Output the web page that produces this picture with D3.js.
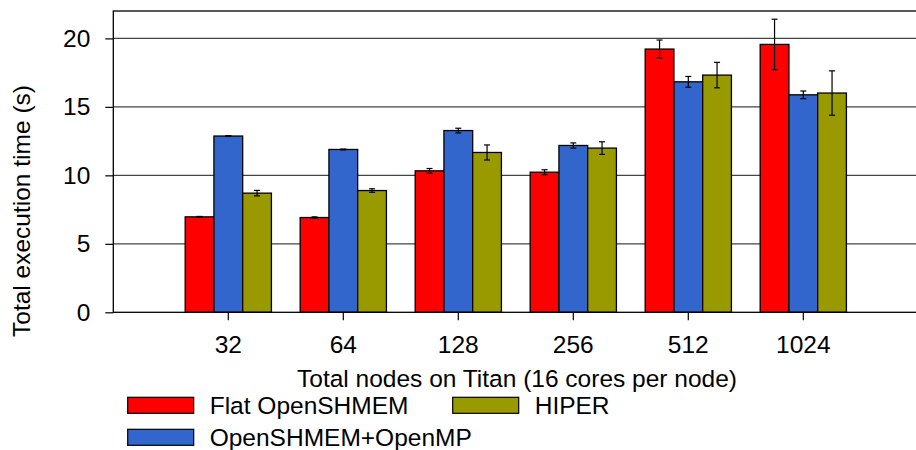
<!DOCTYPE html>
<html>
<head>
<meta charset="utf-8">
<script src="https://cdn.jsdelivr.net/npm/d3@7/dist/d3.min.js"></script>
<style>
  html, body { margin: 0; padding: 0; background: #fff; }
  svg { display: block; font-family: "Liberation Sans", Arial, Helvetica, sans-serif; }
</style>
</head>
<body>
<svg id="chart" width="916" height="450"></svg>
<script>
// Node counts on the x axis
const categories = ["32", "64", "128", "256", "512", "1024"];
const seriesNames = ["Flat OpenSHMEM", "OpenSHMEM+OpenMP", "HIPER"];
const seriesColors = ["#ff0000", "#3366cc", "#999900"];

// Mean execution time (s) per series, per node count
const flatValues   = [6.97, 6.92, 10.33, 10.23, 19.22, 19.56];
const hybridValues = [12.87, 11.89, 13.27, 12.18, 16.83, 15.88];
const hiperValues  = [8.70, 8.89, 11.67, 11.99, 17.32, 16.01];

// Half-width of the error bars (s)
const flatErr   = [0.03, 0.05, 0.17, 0.18, 0.66, 1.84];
const hybridErr = [0.03, 0.03, 0.17, 0.19, 0.39, 0.28];
const hiperErr  = [0.20, 0.13, 0.55, 0.46, 0.93, 1.62];

const yTicks = [0, 5, 10, 15, 20];

const values = [flatValues, hybridValues, hiperValues];
const errs = [flatErr, hybridErr, hiperErr];

const rows = [];
categories.forEach((c, i) => {
  seriesNames.forEach((s, k) => {
    rows.push({ cat: c, series: s, color: seriesColors[k], v: values[k][i], e: errs[k][i] });
  });
});

const svg = d3.select("#chart");
const plotLeft = 113.3, plotRight = 918.3, plotTop = 11, plotBottom = 312.3;
const fontSize = 24.5;

const x0 = d3.scaleBand().domain(categories).range([plotLeft, plotRight]).paddingInner(0).paddingOuter(0.5);
const step = x0.step();
const x1 = d3.scaleBand().domain(seriesNames).range([-0.375 * step, 0.375 * step]).padding(0);
const y = d3.scaleLinear().domain([0, 22]).range([plotBottom, plotTop]);

// horizontal grid lines
svg.append("g")
  .selectAll("line")
  .data(yTicks.filter(t => t > 0))
  .join("line")
  .attr("x1", plotLeft).attr("x2", plotRight)
  .attr("y1", d => y(d)).attr("y2", d => y(d))
  .attr("stroke", "#444").attr("stroke-width", 1.2);

// y axis with outward ticks
const yAxis = d3.axisLeft(y).tickValues(yTicks).tickSize(8).tickPadding(15).tickFormat(d3.format("d"));
const yg = svg.append("g").attr("transform", `translate(${plotLeft},0)`).call(yAxis);
yg.select(".domain").remove();
yg.selectAll(".tick line").attr("stroke", "#000").attr("stroke-width", 1.2);
yg.selectAll(".tick text").attr("font-size", fontSize).attr("fill", "#000")
  .attr("font-family", "'Liberation Sans', Arial, sans-serif");

// x axis with ticks below the baseline
const xAxis = d3.axisBottom(x0).tickSize(8).tickPadding(15);
const xg = svg.append("g").attr("transform", `translate(0,${plotBottom})`).call(xAxis);
xg.select(".domain").remove();
xg.selectAll(".tick line").attr("stroke", "#000").attr("stroke-width", 1.2);
xg.selectAll(".tick text").attr("font-size", fontSize).attr("fill", "#000")
  .attr("font-family", "'Liberation Sans', Arial, sans-serif");

// bars
svg.append("g")
  .selectAll("rect")
  .data(rows)
  .join("rect")
  .attr("x", d => x0(d.cat) + step / 2 + x1(d.series))
  .attr("y", d => y(d.v))
  .attr("width", x1.bandwidth())
  .attr("height", d => y(0) - y(d.v))
  .attr("fill", d => d.color)
  .attr("stroke", "#000")
  .attr("stroke-width", 1.3);

// error bars
const eg = svg.append("g").attr("stroke", "#000").attr("stroke-width", 1.2);
rows.forEach(d => {
  const cx = x0(d.cat) + step / 2 + x1(d.series) + x1.bandwidth() / 2;
  const y1 = y(d.v + d.e), y2 = y(d.v - d.e);
  eg.append("line").attr("x1", cx).attr("x2", cx).attr("y1", y1).attr("y2", y2);
  eg.append("line").attr("x1", cx - 3).attr("x2", cx + 3).attr("y1", y1).attr("y2", y1);
  eg.append("line").attr("x1", cx - 3).attr("x2", cx + 3).attr("y1", y2).attr("y2", y2);
});

// frame
svg.append("rect")
  .attr("x", plotLeft).attr("y", plotTop)
  .attr("width", plotRight - plotLeft).attr("height", plotBottom - plotTop)
  .attr("fill", "none").attr("stroke", "#000").attr("stroke-width", 1.3);

// axis titles
svg.append("text")
  .attr("transform", `translate(30,211) rotate(-90)`)
  .attr("text-anchor", "middle")
  .attr("font-size", fontSize)
  .text("Total execution time (s)");

svg.append("text")
  .attr("x", 517).attr("y", 387)
  .attr("text-anchor", "middle")
  .attr("font-size", fontSize)
  .text("Total nodes on Titan (16 cores per node)");

// legend
const legendPos = [
  { x: 127.7, y: 397.3 },
  { x: 127.7, y: 429.3 },
  { x: 452.7, y: 397.3 }
];
const lg = svg.append("g");
seriesNames.forEach((s, k) => {
  const p = legendPos[k];
  lg.append("rect")
    .attr("x", p.x).attr("y", p.y)
    .attr("width", 66).attr("height", 16)
    .attr("fill", seriesColors[k]).attr("stroke", "#000").attr("stroke-width", 1.2);
  lg.append("text")
    .attr("x", p.x + 82).attr("y", p.y + 16.5)
    .attr("font-size", fontSize)
    .text(s);
});
</script>
</body>
</html>
